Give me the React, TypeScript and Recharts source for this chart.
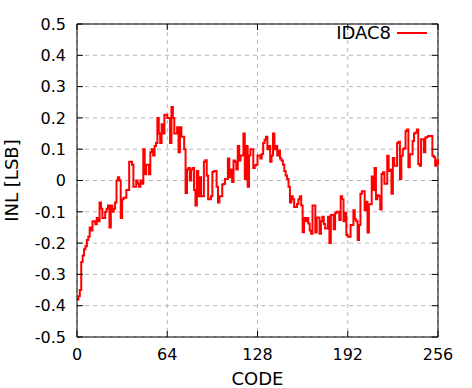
import React from "react";
import { CartesianGrid, Line, LineChart, ReferenceLine, XAxis, YAxis } from "recharts";

// INL per DAC code (0..256)
const INL = [
  -0.38, -0.37, -0.35, -0.26, -0.24, -0.22, -0.21, -0.19, -0.18, -0.15,
  -0.16, -0.13, -0.13, -0.14, -0.12, -0.13, -0.07, -0.09, -0.12, -0.12,
  -0.1, -0.09, -0.08, -0.15, -0.08, -0.1, -0.09, -0.07, 0.0, 0.01,
  0.0, -0.12, -0.06, -0.055, -0.055, -0.03, -0.03, 0.06, 0.06, 0.05,
  -0.02, -0.02, 0.0, -0.01, -0.02, 0.0, -0.01, 0.1, 0.02, 0.05,
  0.05, 0.02, 0.09, 0.1, 0.08, 0.11, 0.12, 0.2, 0.15, 0.12,
  0.18, 0.15, 0.21, 0.21, 0.2, 0.2, 0.12, 0.235, 0.2, 0.15,
  0.15, 0.17, 0.09, 0.17, 0.14, 0.14, 0.1, -0.04, 0.035, 0.04,
  0.0, 0.035, 0.04, -0.03, -0.08, 0.03, -0.05, 0.01, -0.05, -0.05,
  0.06, 0.065, 0.015, -0.06, -0.06, -0.05, 0.027, 0.03, 0.03, -0.02,
  -0.07, -0.05, -0.05, -0.013, -0.01, 0.005, 0.005, 0.07, 0.01, 0.035,
  -0.005, 0.064, 0.06, 0.035, 0.11, 0.064, 0.08, 0.08, 0.15, 0.005,
  0.11, -0.02, 0.08, 0.1, 0.1, 0.04, 0.048, 0.05, 0.08, 0.08,
  0.07, 0.085, 0.12, 0.13, 0.14, 0.1, 0.11, 0.06, 0.08, 0.15,
  0.1, 0.11, 0.08, 0.095, 0.07, 0.064, 0.05, 0.03, 0.016, 0.005,
  -0.02, -0.07, -0.05, -0.06, -0.085, -0.085, -0.075, -0.06, -0.05, -0.08,
  -0.165, -0.12, -0.13, -0.12, -0.137, -0.16, -0.17, -0.08, -0.08, -0.166,
  -0.118, -0.118, -0.17, -0.13, -0.116, -0.139, -0.153, -0.153, -0.116, -0.2,
  -0.11, -0.11, -0.156, -0.105, -0.1, -0.1, -0.126, -0.05, -0.06, -0.13,
  -0.103, -0.174, -0.18, -0.18, -0.142, -0.142, -0.095, -0.124, -0.13, -0.19,
  -0.142, -0.042, -0.034, -0.034, -0.095, -0.068, -0.166, -0.076, -0.076, 0.013,
  -0.03, 0.04, -0.06, -0.047, -0.05, -0.093, 0.021, 0.026, -0.01, -0.01,
  0.079, 0.03, 0.034, -0.042, 0.072, 0.047, 0.047, 0.12, 0.124, 0.005,
  0.079, 0.1, 0.103, 0.158, 0.163, 0.042, 0.084, 0.084, 0.126, 0.15,
  0.153, 0.163, 0.053, 0.047, 0.132, 0.132, 0.09, 0.137, 0.139, 0.142,
  0.142, 0.142, 0.079, 0.074, 0.047, 0.065, 0.05,
];

const X_TICKS = [0, 64, 128, 192, 256];
const Y_TICKS = [-0.5, -0.4, -0.3, -0.2, -0.1, 0, 0.1, 0.2, 0.3, 0.4, 0.5];
const SERIES_NAME = "IDAC8";

const W = 472;
const H = 388;
const PLOT_LEFT = 77;
const PLOT_RIGHT = 438;
const PLOT_TOP = 24;
const PLOT_BOTTOM = 337;
const FONT = "'DejaVu Sans', sans-serif";
const RED = "#ff0000";
const GRID = "#b4b4b4";

const data = INL.map((v, i) => ({ code: i, inl: v }));

function XTick({ x, y, payload }: any) {
  return (
    <g>
      <line x1={x} x2={x} y1={PLOT_BOTTOM} y2={PLOT_BOTTOM - 6} stroke="#000" />
      <line x1={x} x2={x} y1={PLOT_TOP} y2={PLOT_TOP + 6} stroke="#000" />
      <text x={x} y={y} dy="0.71em" textAnchor="middle" fontSize={16} fontFamily={FONT} fill="#000">
        {payload.value}
      </text>
    </g>
  );
}

function YTick({ x, y, payload }: any) {
  return (
    <g>
      <line x1={PLOT_LEFT} x2={PLOT_LEFT + 6} y1={y} y2={y} stroke="#000" />
      <line x1={PLOT_RIGHT} x2={PLOT_RIGHT - 6} y1={y} y2={y} stroke="#000" />
      <text x={x} y={y} dy="0.36em" textAnchor="end" fontSize={16} fontFamily={FONT} fill="#000">
        {String(payload.value)}
      </text>
    </g>
  );
}

export default function App() {
  return (
    <div style={{ position: "absolute", left: 0, top: 0, width: W, height: H, background: "#fff" }}>
      <LineChart
        width={W}
        height={H}
        data={data}
        margin={{ top: PLOT_TOP, right: W - PLOT_RIGHT, bottom: 0, left: 0 }}
      >
        <CartesianGrid stroke={GRID} strokeDasharray="4 4" />
        <XAxis
          dataKey="code"
          type="number"
          domain={[0, 256]}
          ticks={X_TICKS}
          height={H - PLOT_BOTTOM}
          tickSize={0}
          tickMargin={12}
          tickLine={false}
          axisLine={{ stroke: "#000" }}
          tick={<XTick />}
          label={{
            value: "CODE",
            position: "insideBottom",
            offset: 3,
            style: { fontSize: 18, fontFamily: FONT, fill: "#000" },
          }}
        />
        <YAxis
          type="number"
          domain={[-0.5, 0.5]}
          ticks={Y_TICKS}
          width={PLOT_LEFT}
          tickSize={0}
          tickMargin={11}
          tickLine={false}
          axisLine={{ stroke: "#000" }}
          tick={<YTick />}
          label={{
            value: "INL [LSB]",
            angle: -90,
            position: "insideLeft",
            offset: 12,
            style: { fontSize: 18, fontFamily: FONT, fill: "#000", textAnchor: "middle" },
          }}
        />
        <ReferenceLine y={0.5} stroke="#000" />
        <ReferenceLine x={256} stroke="#000" />
        <Line
          type="stepAfter"
          dataKey="inl"
          name={SERIES_NAME}
          stroke={RED}
          strokeWidth={2}
          dot={false}
          isAnimationActive={false}
        />
      </LineChart>
      <div
        style={{
          position: "absolute",
          right: W - 427,
          top: 23,
          display: "flex",
          alignItems: "center",
          gap: 6,
          fontFamily: FONT,
          fontSize: 18,
          lineHeight: "20px",
        }}
      >
        <span>{SERIES_NAME}</span>
        <span style={{ display: "inline-block", width: 30, height: 2, background: RED }} />
      </div>
    </div>
  );
}
